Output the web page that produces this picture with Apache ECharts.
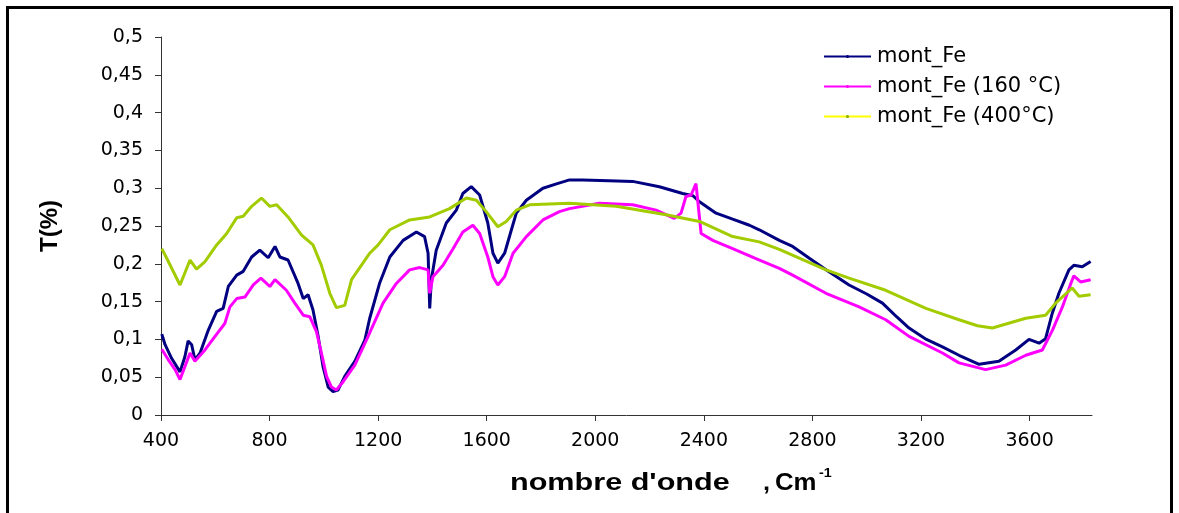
<!DOCTYPE html>
<html>
<head>
<meta charset="utf-8">
<script src="https://cdn.jsdelivr.net/npm/echarts@6/dist/echarts.min.js"></script>
<style>
html,body{margin:0;padding:0;background:#fff;}
#chart{width:1179px;height:513px;}
</style>
</head>
<body>
<div id="chart"></div>
<script>
// ---- data (wavenumber cm-1, transmittance) ----
const seriesNames = ['mont_Fe', 'mont_Fe (160 °C)', 'mont_Fe (400°C)'];
const xTicks = [400, 800, 1200, 1600, 2000, 2400, 2800, 3200, 3600];
const yTicks = [0, 0.05, 0.1, 0.15, 0.2, 0.25, 0.3, 0.35, 0.4, 0.45, 0.5];

const feX = [403,415,439,470,488,500,513,525,544,574,605,629,648,679,703,734,764,795,820,838,868,905,924,942,960,979,997,1016,1034,1052,1077,1114,1151,1169,1206,1243,1292,1341,1371,1384,1390,1396,1414,1451,1488,1512,1543,1574,1604,1623,1641,1666,1691,1709,1746,1807,1860,1905,1954,2050,2138,2236,2322,2360,2384,2445,2506,2568,2604,2678,2727,2790,2850,2935,3000,3058,3110,3156,3220,3279,3340,3414,3487,3549,3598,3635,3659,3684,3708,3745,3763,3794,3825];
const feY = [0.107,0.093,0.075,0.057,0.077,0.098,0.093,0.073,0.082,0.112,0.137,0.141,0.170,0.185,0.190,0.209,0.218,0.208,0.223,0.209,0.205,0.174,0.154,0.159,0.139,0.104,0.064,0.037,0.031,0.033,0.051,0.071,0.099,0.128,0.175,0.209,0.231,0.242,0.236,0.214,0.141,0.179,0.218,0.254,0.271,0.293,0.302,0.291,0.254,0.214,0.201,0.214,0.245,0.267,0.284,0.300,0.306,0.311,0.311,0.310,0.309,0.302,0.293,0.290,0.282,0.267,0.259,0.251,0.245,0.231,0.223,0.207,0.192,0.172,0.160,0.148,0.130,0.115,0.100,0.090,0.079,0.067,0.071,0.086,0.100,0.095,0.101,0.135,0.161,0.192,0.198,0.196,0.203];

const fe160X = [403,427,452,470,488,507,525,562,599,635,654,679,709,740,768,801,820,862,893,924,948,973,991,1010,1028,1046,1071,1114,1163,1218,1267,1316,1353,1384,1390,1402,1439,1476,1512,1549,1574,1604,1623,1641,1666,1697,1746,1807,1868,1905,2015,2138,2224,2291,2316,2334,2353,2371,2381,2390,2433,2506,2592,2678,2727,2850,2972,3070,3156,3279,3340,3438,3512,3586,3647,3684,3721,3752,3763,3788,3825];
const fe160Y = [0.087,0.073,0.060,0.047,0.064,0.082,0.071,0.086,0.104,0.121,0.143,0.154,0.156,0.172,0.181,0.170,0.179,0.165,0.148,0.132,0.130,0.110,0.082,0.051,0.037,0.033,0.044,0.066,0.104,0.148,0.174,0.192,0.195,0.192,0.161,0.183,0.198,0.220,0.242,0.251,0.240,0.209,0.183,0.172,0.183,0.214,0.236,0.258,0.269,0.273,0.280,0.278,0.271,0.260,0.267,0.289,0.291,0.306,0.271,0.240,0.231,0.220,0.207,0.194,0.185,0.161,0.143,0.126,0.104,0.082,0.069,0.060,0.066,0.079,0.086,0.112,0.143,0.174,0.184,0.176,0.179];

const fe400X = [403,427,470,507,531,562,605,642,679,703,734,770,801,826,868,918,960,991,1022,1046,1077,1102,1138,1169,1200,1243,1316,1390,1463,1525,1562,1598,1641,1672,1709,1758,1831,1905,2077,2261,2384,2506,2604,2678,2850,2935,3070,3218,3340,3408,3463,3586,3659,3696,3757,3782,3825];
const fe400Y = [0.220,0.203,0.172,0.205,0.193,0.203,0.225,0.240,0.261,0.263,0.276,0.287,0.276,0.278,0.262,0.238,0.225,0.198,0.161,0.142,0.145,0.179,0.198,0.214,0.225,0.245,0.258,0.262,0.273,0.287,0.284,0.269,0.249,0.256,0.271,0.278,0.279,0.280,0.276,0.265,0.256,0.236,0.229,0.219,0.192,0.181,0.165,0.141,0.126,0.118,0.115,0.128,0.132,0.148,0.168,0.157,0.159];

function pairs(xs, ys) { return xs.map((x, i) => [x, ys[i]]); }

const colors = ['#000080', '#ff00ff', '#a2cc00'];
const FONT = 'DejaVu Sans';
const TITLE_FONT = 'Liberation Sans';

const chart = echarts.init(document.getElementById('chart'));
const option = {
  backgroundColor: '#ffffff',
  animation: false,
  grid: { left: 161, right: 87, top: 37, bottom: 98, containLabel: false },
  legend: {
    orient: 'vertical',
    left: 823,
    top: 46,
    padding: 0,
    itemWidth: 47,
    itemHeight: 4,
    itemGap: 9,
    textStyle: { fontFamily: FONT, fontSize: 21, color: '#000', padding: [0, 0, 0, 1] },
    data: [
      { name: seriesNames[0] },
      { name: seriesNames[1] },
      { name: seriesNames[2], lineStyle: { color: '#ffff00' }, itemStyle: { color: '#88b000' } }
    ]
  },
  xAxis: {
    type: 'value',
    min: 400,
    max: 3830,
    interval: 400,
    splitLine: { show: false },
    axisLine: { lineStyle: { color: '#333', width: 1 } },
    axisTick: { length: 6, lineStyle: { color: '#333' }, customValues: xTicks },
    axisLabel: { customValues: xTicks, margin: 17, fontFamily: FONT, fontSize: 19, color: '#000', formatter: v => String(v) }
  },
  yAxis: {
    type: 'value',
    min: 0,
    max: 0.5,
    interval: 0.05,
    splitLine: { show: false },
    axisLine: { show: true, lineStyle: { color: '#333', width: 1 } },
    axisTick: { show: true, length: 6, lineStyle: { color: '#333' } },
    axisLabel: {
      margin: 18, fontFamily: FONT, fontSize: 19, color: '#000',
      formatter: v => String(Math.round(v * 100) / 100).replace('.', ',')
    },
    name: 'T(%)',
    nameLocation: 'middle',
    nameGap: 99,
    nameTextStyle: { fontFamily: TITLE_FONT, fontWeight: 'bold', fontSize: 24, color: '#000' }
  },
  graphic: [
    { type: 'rect', shape: { x: 7.5, y: 7.5, width: 1164, height: 600 }, style: { fill: 'none', stroke: '#000', lineWidth: 3 }, silent: true },
    { type: 'text', x: 510, y: 484, scaleX: 1.33, style: { text: "nombre d'onde", fontFamily: TITLE_FONT, fontWeight: 'bold', fontSize: 23, fill: '#000', textAlign: 'left', textVerticalAlign: 'middle' } },
    { type: 'text', x: 763, y: 484, scaleX: 1.1, style: { text: ',', fontFamily: TITLE_FONT, fontWeight: 'bold', fontSize: 23, fill: '#000', textAlign: 'left', textVerticalAlign: 'middle' } },
    { type: 'text', x: 775, y: 484, scaleX: 1.12, style: { text: 'Cm', fontFamily: TITLE_FONT, fontWeight: 'bold', fontSize: 23, fill: '#000', textAlign: 'left', textVerticalAlign: 'middle' } },
    { type: 'text', x: 819, y: 473, scaleX: 1.1, style: { text: '-1', fontFamily: TITLE_FONT, fontWeight: 'bold', fontSize: 13, fill: '#000', textAlign: 'left', textVerticalAlign: 'middle' } }
  ],
  series: [
    { name: seriesNames[0], type: 'line', data: pairs(feX, feY), color: colors[0], symbol: 'circle', symbolSize: 4, showSymbol: false, lineStyle: { width: 3, color: colors[0] } },
    { name: seriesNames[1], type: 'line', data: pairs(fe160X, fe160Y), color: colors[1], symbol: 'circle', symbolSize: 4, showSymbol: false, lineStyle: { width: 3, color: colors[1] } },
    { name: seriesNames[2], type: 'line', data: pairs(fe400X, fe400Y), color: colors[2], symbol: 'circle', symbolSize: 4, showSymbol: false, lineStyle: { width: 3, color: colors[2] } }
  ]
};
chart.setOption(option);
</script>
</body>
</html>
